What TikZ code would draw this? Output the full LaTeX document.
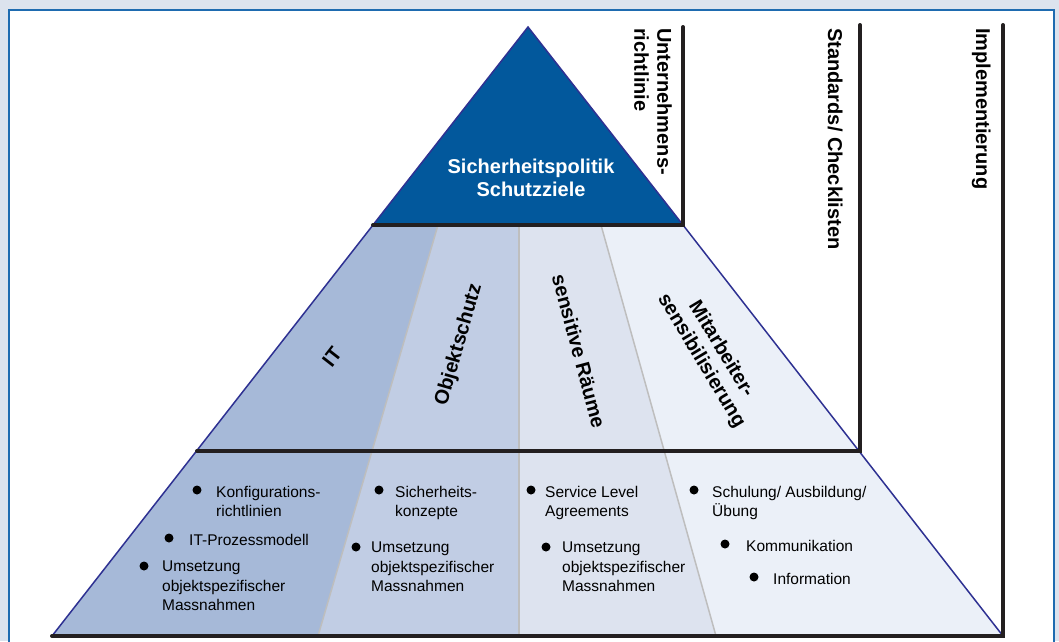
\documentclass[tikz,border=0pt]{standalone}
\usepackage{fontspec}
\setmainfont{Liberation Sans}
\definecolor{panelbg}{HTML}{DCE3EE}
\definecolor{panelline}{HTML}{1E6BB0}
\definecolor{edgeblue}{HTML}{2E3192}
\definecolor{topblue}{HTML}{02589C}
\definecolor{colA}{HTML}{A6B9D8}
\definecolor{colB}{HTML}{C1CDE4}
\definecolor{colC}{HTML}{DDE3EF}
\definecolor{colD}{HTML}{EBF0F8}
\definecolor{divgray}{HTML}{BEBEBE}
\definecolor{barblack}{HTML}{231F20}
\begin{document}
\begin{tikzpicture}[x=1pt,y=-1pt,
	bar/.style={barblack,line width=4pt,line cap=round},
	divider/.style={divgray,line width=1.5pt},
	rim/.style={edgeblue,line width=1.5pt},
	big/.style={font=\fontsize{20}{23}\selectfont\bfseries,inner sep=0},
	item/.style={font=\fontsize{15.5}{19.5}\selectfont,align=left,anchor=north west,inner sep=0},
	dot/.style={circle,fill=black,inner sep=0,minimum size=9pt}]
	\useasboundingbox (0,0) rectangle (1059,641);
	\clip (0,0) rectangle (1059,641);
	\fill [panelbg] (0,0) rectangle (1059,641);
	\draw [panelline,line width=1.5pt,fill=white] (9,10) rectangle (1054,660);
	\coordinate (v1) at (528,27);
	\coordinate (v2) at (373,225);
	\coordinate (v3) at (683,225);
	\coordinate (v4) at (197,451);
	\coordinate (v5) at (860,451);
	\coordinate (v6) at (52,636);
	\coordinate (v7) at (1003,636);
	\coordinate (d1) at (438,225);
	\coordinate (d2) at (318,636);
	\coordinate (d3) at (519,225);
	\coordinate (d4) at (519,636);
	\coordinate (d5) at (601,225);
	\coordinate (d6) at (716,636);
	\coordinate (u1) at (683,27);
	\coordinate (s1) at (860,25);
	\coordinate (i1) at (1003,25);
	\fill [colA] (v2) -- (d1) -- (d2) -- (v6) -- cycle;
	\fill [colB] (d1) -- (d3) -- (d4) -- (d2) -- cycle;
	\fill [colC] (d3) -- (d5) -- (d6) -- (d4) -- cycle;
	\fill [colD] (d5) -- (v3) -- (v7) -- (d6) -- cycle;
	\draw [divider] (d1) -- (d2);
	\draw [divider] (d3) -- (d4);
	\draw [divider] (d5) -- (d6);
	\draw [rim,fill=topblue] (v2) -- (v1) -- (v3) -- cycle;
	\draw [rim] (v2) -- (v6);
	\draw [rim] (v3) -- (v7);
	\draw [bar] (u1) -- (v3) -- (v2);
	\draw [bar] (s1) -- (v5) -- (v4);
	\draw [bar] (i1) -- (v7) -- (v6);
	\node [big,text=white,align=center] (top) at (531,178) {Sicherheitspolitik\\Schutzziele};
	\node [big,rotate=-90,align=left,anchor=north west] (unt) at (672,28) {Unternehmens-\\richtlinie};
	\node [big,rotate=-90,anchor=base west] (std) at (828,28) {Standards/ Checklisten};
	\node [big,rotate=-90,anchor=base west] (imp) at (976,28) {Implementierung};
	\node [big,rotate=52] (it) at (332,357) {IT};
	\node [big,rotate=74] (obj) at (459,345) {Objektschutz};
	\node [big,rotate=-75] (sens) at (579,351) {sensitive Räume};
	\node [big,rotate=-59,align=center] (mit) at (711,355) {Mitarbeiter-\\sensibilisierung};
	\node [dot] (p1) at (197,490) {};
	\node [item] (t1) at (216,485.7) {Konfigurations-\\richtlinien};
	\node [dot] (p2) at (169,538) {};
	\node [item] (t2) at (189,533.7) {IT-Prozessmodell};
	\node [dot] (p3) at (144,566) {};
	\node [item] (t3) at (162,560.7) {Umsetzung\\objektspezifischer\\Massnahmen};
	\node [dot] (p4) at (379,490) {};
	\node [item] (t4) at (395,485.7) {Sicherheits-\\konzepte};
	\node [dot] (p5) at (356,547) {};
	\node [item] (t5) at (371,541.7) {Umsetzung\\objektspezifischer\\Massnahmen};
	\node [dot] (p6) at (531,490) {};
	\node [item] (t6) at (545,485.7) {Service Level\\Agreements};
	\node [dot] (p7) at (546,547) {};
	\node [item] (t7) at (562,541.7) {Umsetzung\\objektspezifischer\\Massnahmen};
	\node [dot] (p8) at (694,490) {};
	\node [item] (t8) at (712,485.7) {Schulung/ Ausbildung/\\Übung};
	\node [dot] (p9) at (725,544) {};
	\node [item] (t9) at (746,539.7) {Kommunikation};
	\node [dot] (p10) at (754,577) {};
	\node [item] (t10) at (773,572.7) {Information};
\end{tikzpicture}
\end{document}
